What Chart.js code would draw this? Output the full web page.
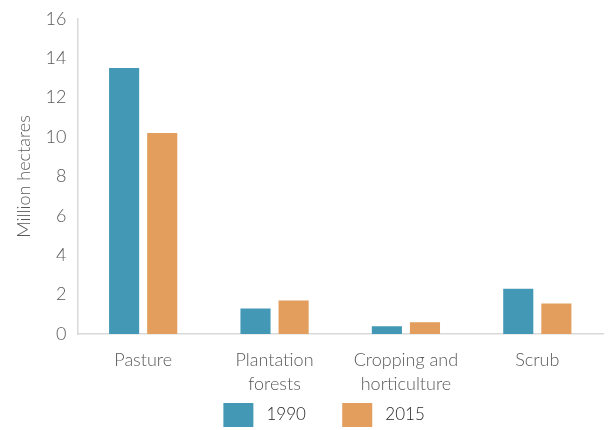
<!DOCTYPE html>
<html>
<head>
<meta charset="utf-8">
<script src="https://cdn.jsdelivr.net/npm/chart.js@4"></script>
<style>
  html, body { margin: 0; padding: 0; background: #fff; }
  #wrap { width: 608px; height: 430px; overflow: hidden; position: relative; }
  #inner { position: absolute; left: 0; top: -3px; width: 608px; height: 440px; }
</style>
</head>
<body>
<div id="wrap"><div id="inner"><canvas id="landChart"></canvas></div></div>
<script>
const categories = ["Pasture", ["Plantation", "forests"], ["Cropping and", "horticulture"], "Scrub"];
const seriesNames = ["1990", "2015"];
const values1990 = [13.5, 1.3, 0.4, 2.3];
const values2015 = [10.2, 1.7, 0.6, 1.55];
const yTicks = [0, 2, 4, 6, 8, 10, 12, 14, 16];

const tickFont = { family: "Lato", size: 18, weight: "300" };

const ctx = document.getElementById("landChart").getContext("2d");
new Chart(ctx, {
  type: "bar",
  data: {
    labels: categories,
    datasets: [
      { label: seriesNames[0], data: values1990, backgroundColor: "#4398b5" },
      { label: seriesNames[1], data: values2015, backgroundColor: "#e39d5c" }
    ]
  },
  options: {
    responsive: true,
    maintainAspectRatio: false,
    animation: false,
    layout: { padding: { left: 13, right: 5, top: 0, bottom: 0 } },
    datasets: { bar: { barPercentage: 0.79, categoryPercentage: 0.58 } },
    scales: {
      x: {
        grid: { display: false, drawTicks: false },
        border: { color: "#d9d9d9", width: 1.5 },
        ticks: { color: "#595959", font: { ...tickFont, lineHeight: 1.333 }, padding: 14, maxRotation: 0, autoSkip: false },
        afterFit: axis => { axis.height -= 11; }
      },
      y: {
        min: 0,
        max: 16,
        afterBuildTicks: axis => { axis.ticks = yTicks.map(v => ({ value: v })); },
        grid: { display: false, drawTicks: false },
        border: { color: "#d9d9d9", width: 1.5 },
        ticks: { color: "#595959", font: tickFont, padding: 11 },
        title: { display: true, text: "Million hectares", color: "#595959", font: tickFont, padding: 0 }
      }
    },
    plugins: {
      legend: {
        position: "bottom",
        fullSize: false,
        labels: {
          boxWidth: 30,
          boxHeight: 24,
          color: "#262626",
          font: { family: "Lato", size: 17, weight: "300" },
          padding: 4,
          generateLabels: chart => {
            const items = Chart.defaults.plugins.legend.labels.generateLabels(chart);
            // spacing around the legend texts
            items.forEach(item => {
              item.lineWidth = 0;
              item.text = " " + item.text + "       ";
            });
            return items;
          }
        }
      },
      tooltip: { enabled: false }
    }
  }
});
</script>
</body>
</html>
